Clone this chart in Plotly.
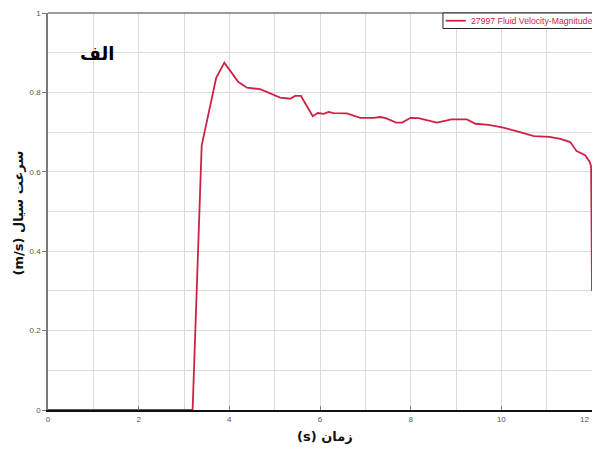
import plotly.graph_objects as go

# Time (s) and fluid velocity magnitude (m/s) at node 27997
time_s = [0, 3.19, 3.39, 3.71, 3.89, 4.2, 4.39, 4.68, 5.12, 5.34, 5.45, 5.58,
          5.84, 5.95, 6.08, 6.19, 6.3, 6.59, 6.89, 7.18, 7.33, 7.45, 7.68, 7.81,
          8.0, 8.17, 8.58, 8.9, 9.24, 9.43, 9.72, 10.02, 10.35, 10.72, 11.06,
          11.3, 11.52, 11.66, 11.85, 11.95, 11.98, 12.0]
velocity = [0, 0, 0.666, 0.837, 0.875, 0.826, 0.812, 0.808, 0.787, 0.784, 0.791,
            0.791, 0.740, 0.748, 0.746, 0.751, 0.748, 0.747, 0.736, 0.736, 0.738,
            0.735, 0.724, 0.724, 0.736, 0.735, 0.724, 0.732, 0.732, 0.721, 0.718,
            0.712, 0.702, 0.690, 0.688, 0.683, 0.675, 0.652, 0.642, 0.625, 0.614,
            0.30]

x_ticks = [0, 2, 4, 6, 8, 10, 12]
x_tick_text = ["0", "2", "4", "6", "8", "10", "12"]
y_ticks = [0, 0.2, 0.4, 0.6, 0.8, 1]
y_tick_text = ["0", "0.2", "0.4", "0.6", "0.8", "1"]

series_name = "27997 Fluid Velocity-Magnitude"
panel_label = "الف"
x_title = "زمان (s)"
y_title = "سرعت سیال (m/s)"

LINE = "#cf2147"
GRID = "#dadada"
TICKFONT = dict(family="Liberation Sans, Arial", size=8, color="#555555")
ARABIC = "DejaVu Sans"


def rtl(s):
    # right-to-left embedding so mixed Persian/Latin titles keep their order
    return "\u202b" + s + "\u202c"


fig = go.Figure()
fig.add_trace(go.Scatter(
    x=time_s, y=velocity, mode="lines", name=series_name,
    line=dict(color=LINE, width=1.8), showlegend=False,
))

# the last x label sits on the frame's right edge; draw it right-aligned so it stays inside
axis_tick_text = x_tick_text[:-1] + [""]

# compact legend box pinned to the top-right corner of the frame
leg_x0, leg_x1, leg_y0, leg_y1 = 0.726, 1.0, 0.961, 1.0
leg_mid = (leg_y0 + leg_y1) / 2

fig.update_layout(
    width=592, height=449,
    margin=dict(l=48, r=0, t=13, b=39),
    paper_bgcolor="white", plot_bgcolor="white",
    xaxis=dict(
        range=[0, 12.0], tickvals=x_ticks, ticktext=axis_tick_text,
        showgrid=True, gridcolor=GRID, gridwidth=1.3,
        minor=dict(dtick=1, showgrid=True, gridcolor=GRID, gridwidth=1.3),
        showline=True, linecolor="#111111", linewidth=2,
        ticks="inside", ticklen=4, tickcolor="#777777",
        tickfont=TICKFONT, zeroline=False, automargin=False,
    ),
    yaxis=dict(
        range=[0, 1], tickvals=y_ticks, ticktext=y_tick_text,
        showgrid=True, gridcolor=GRID, gridwidth=1.3,
        minor=dict(dtick=0.1, showgrid=True, gridcolor=GRID, gridwidth=1.3),
        showline=True, linecolor="#7a7a7a", linewidth=1.5,
        ticks="outside", ticklen=4, tickcolor="#777777",
        tickfont=TICKFONT, zeroline=False, automargin=False,
    ),
    shapes=[
        # top border of the plotting frame
        dict(type="line", xref="paper", yref="paper", x0=0, x1=1, y0=1, y1=1,
             line=dict(color="#7a7a7a", width=1.5)),
        # white panel behind the panel label
        dict(type="rect", xref="paper", yref="paper", x0=0.044, x1=0.169,
             y0=0.850, y1=0.951, fillcolor="white", line=dict(width=0),
             layer="between"),
        # legend frame and line sample
        dict(type="rect", xref="paper", yref="paper", x0=leg_x0, x1=leg_x1 + 0.01,
             y0=leg_y0, y1=leg_y1, fillcolor="white",
             line=dict(color="#222222", width=1), layer="above"),
        dict(type="line", xref="paper", yref="paper", x0=leg_x0 + 0.005,
             x1=leg_x0 + 0.042, y0=leg_mid, y1=leg_mid,
             line=dict(color=LINE, width=1.8), layer="above"),
    ],
    annotations=[
        dict(text=x_tick_text[-1], xref="x", yref="y", x=x_ticks[-1], y=0,
             xanchor="right", yanchor="top", yshift=-3, xshift=-1,
             showarrow=False, font=TICKFONT),
        dict(text=series_name, xref="paper", yref="paper", x=leg_x0 + 0.048,
             y=leg_mid, showarrow=False, xanchor="left", yanchor="middle",
             font=dict(family="Liberation Sans, Arial", size=8.7, color=LINE)),
        dict(text="<b>" + panel_label + "</b>", xref="paper", yref="paper",
             x=0.090, y=0.898, showarrow=False,
             font=dict(family=ARABIC, size=18, color="black"),
             xanchor="center", yanchor="middle"),
        dict(text="<b>" + rtl(x_title) + "</b>", xref="paper", yref="paper",
             x=0.51, y=-0.068, showarrow=False, xanchor="center", yanchor="middle",
             font=dict(family=ARABIC, size=13, color="#111111")),
        dict(text="<b>" + rtl(y_title) + "</b>", xref="paper", yref="paper",
             x=-0.055, y=0.495, showarrow=False, textangle=-90,
             xanchor="center", yanchor="middle",
             font=dict(family=ARABIC, size=13, color="#111111")),
    ],
)

fig.write_html("out.html")
